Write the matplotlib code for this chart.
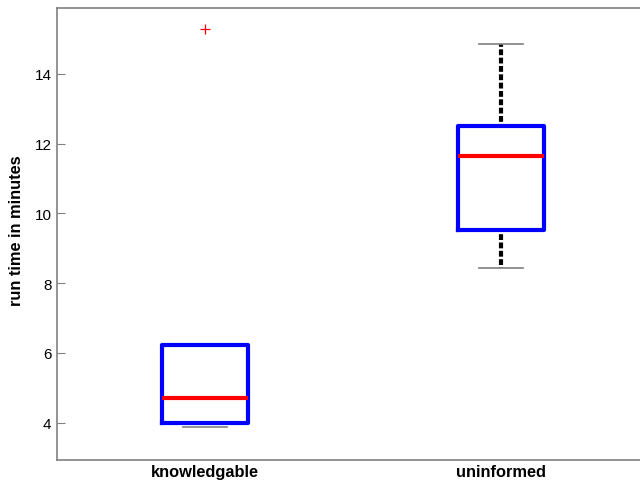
import matplotlib
matplotlib.use("Agg")
import matplotlib.pyplot as plt

categories = ["knowledgable", "uninformed"]
q1 = [4.00, 9.53]
median = [4.69, 11.65]
q3 = [6.23, 12.51]
whislo = [3.885, 8.44]
whishi = [6.23, 14.86]
outliers = [[15.29], []]
yticks = [4, 6, 8, 10, 12, 14]

plt.rcParams['font.family'] = ['Liberation Sans', 'DejaVu Sans']

fig = plt.figure(figsize=(6.4, 4.81), dpi=100)
ax = fig.add_axes([57/640, 1 - 460.5/481, (648.75 - 57)/640, (460.5 - 9)/481])

stats = []
for i in range(len(categories)):
    stats.append(dict(label=categories[i], q1=q1[i], med=median[i], q3=q3[i],
                      whislo=whislo[i], whishi=whishi[i], fliers=outliers[i]))

ax.bxp(stats, positions=[1, 2], widths=0.29, capwidths=0.15, showfliers=True,
       boxprops=dict(color='#0000ff', linewidth=3, zorder=4),
       medianprops=dict(color='#ff0000', linewidth=3, zorder=5),
       whiskerprops=dict(color='black', linewidth=3, linestyle=(1.0, (1.4, 0.6)), zorder=2),
       capprops=dict(color='#808080', linewidth=1.2, zorder=3),
       flierprops=dict(marker='+', markeredgecolor='#ff0000', markersize=7,
                       markeredgewidth=0.9, linestyle='none'))

ax.set_xlim(0.5, 2.5)
ax.set_ylim(2.94, 15.89)
ax.set_yticks(yticks)
ax.set_yticklabels([str(t) for t in yticks], fontsize=11)
ax.set_xticks([1, 2])
ax.set_xticklabels(categories, fontsize=11.8, fontweight='bold')
ax.tick_params(axis='x', length=0, pad=3)
ax.tick_params(axis='y', direction='in', length=6, color='#808080', pad=4)
for s in ax.spines.values():
    s.set_color('#808080')
    s.set_linewidth(1.2)
ax.set_ylabel("run time in minutes", fontsize=11.8, fontweight='bold')
ax.yaxis.set_label_coords(-0.0558, 0.51)

fig.savefig("out.png", dpi=100)
